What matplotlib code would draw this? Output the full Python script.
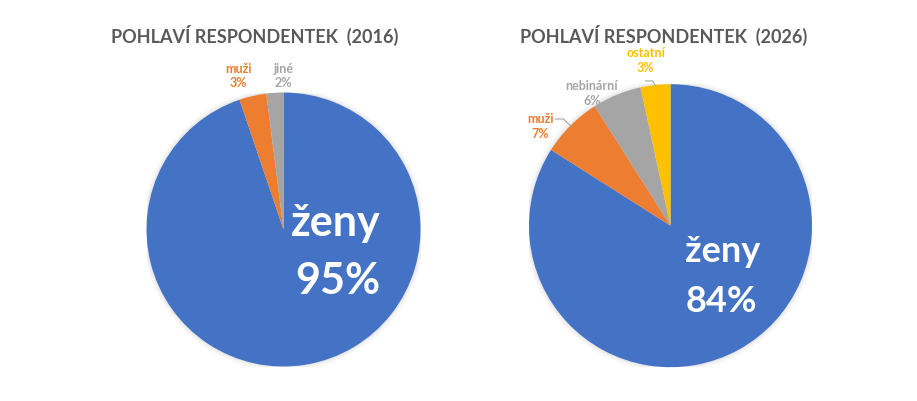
import matplotlib
matplotlib.use("Agg")
import matplotlib.pyplot as plt
from matplotlib.patches import Circle
import numpy as np

plt.rcParams['font.family'] = ['Lato', 'DejaVu Sans']

# ---- data ----
title_2016 = "POHLAVÍ RESPONDENTEK  (2016)"
labels_2016 = ["ženy", "muži", "jiné"]
values_2016 = [94.8, 3.2, 2.0]

title_2026 = "POHLAVÍ RESPONDENTEK  (2026)"
labels_2026 = ["ženy", "muži", "nebinární", "ostatní"]
values_2026 = [84.0, 7.0, 5.6, 3.4]

colors = ["#4472C4", "#ED7D31", "#A5A5A5", "#FFC000"]

W, H = 917, 402
fig = plt.figure(figsize=(W / 100, H / 100), dpi=100)
fig.patch.set_facecolor("white")


def make_ax(cx, cy, r):
    return fig.add_axes([(cx - r) / W, (H - cy - r) / H, 2 * r / W, 2 * r / H])


def shadow(ax):
    for k, a in [(1.035, 0.03), (1.025, 0.04), (1.015, 0.05), (1.007, 0.06)]:
        ax.add_patch(Circle((0, 0), k, color="#7f7f7f", alpha=a, lw=0, zorder=0))


def draw(ax, values, labels, main_pos, small_pos, big_size):
    shadow(ax)
    wedges, _ = ax.pie(values, colors=colors[:len(values)], startangle=90,
                       counterclock=False, radius=1.0,
                       wedgeprops=dict(linewidth=0))
    for w in wedges:
        w.set_zorder(2)
    ax.set_xlim(-1, 1)
    ax.set_ylim(-1, 1)
    ax.set_aspect("equal")
    ax.axis("off")
    (x1, y1), (x2, y2) = main_pos
    ax.text(x1, y1, labels[0], color="white", fontsize=big_size, fontweight="bold",
            ha="center", va="baseline", zorder=5)
    ax.text(x2, y2, "%.0f%%" % values[0], color="white", fontsize=big_size,
            fontweight="bold", ha="center", va="baseline", zorder=5)
    for i in range(1, len(values)):
        (lx, ly), (px, py) = small_pos[i - 1]
        c = colors[i]
        ax.text(lx, ly, labels[i], color=c, fontsize=9, fontweight="bold",
                ha="center", va="baseline", clip_on=False, zorder=5)
        ax.text(px, py, "%.0f%%" % values[i], color=c, fontsize=9,
                fontweight="bold", ha="center", va="baseline", clip_on=False, zorder=5)
    return wedges


# left pie
axL = make_ax(283.5, 230.5, 137)
draw(axL, values_2016, labels_2016,
     main_pos=[(0.38, -0.04), (0.395, -0.46)],
     small_pos=[((-0.33, 1.153), (-0.33, 1.044)), ((0.0, 1.153), (0.0, 1.044))],
     big_size=31)

# right pie
axR = make_ax(670.5, 226.7, 141.5)
wedgesR = draw(axR, values_2026, labels_2026,
               main_pos=[(0.37, -0.25), (0.36, -0.60)],
               small_pos=[((-0.92, 0.733), (-0.92, 0.627)),
                          ((-0.555, 0.966), (-0.555, 0.86)),
                          ((-0.17, 1.20), (-0.177, 1.093))],
               big_size=26)

# leader lines (elbow style) for right pie, ending at wedge mid-angle
for idx, (hx0, hx1, hy) in {1: (-0.813, -0.756, 0.754), 3: (-0.177, -0.127, 1.023)}.items():
    w = wedgesR[idx]
    th = np.deg2rad((w.theta1 + w.theta2) / 2)
    x0, y0 = 0.995 * np.cos(th), 0.995 * np.sin(th)
    axR.plot([hx0, hx1, x0], [hy, hy, y0], color="#A6A6A6", lw=0.8,
             clip_on=False, zorder=3)

fig.text(255 / W, 1 - 42.5 / H, title_2016, color="#595959", fontsize=13,
         fontweight="bold", ha="center", va="baseline")
fig.text(663.5 / W, 1 - 42.5 / H, title_2026, color="#595959", fontsize=13,
         fontweight="bold", ha="center", va="baseline")

fig.savefig("out.png", dpi=100, facecolor="white")
